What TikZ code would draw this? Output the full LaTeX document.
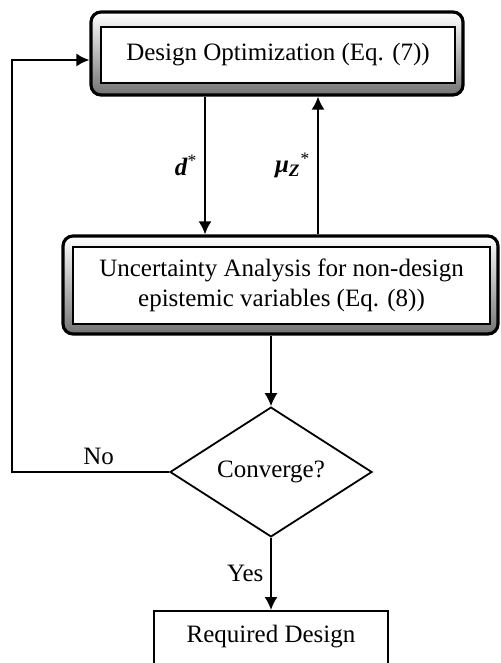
\documentclass[tikz,border=0pt]{standalone}
\usepackage{fontspec}
\setmainfont{Liberation Serif}
\usetikzlibrary{arrows.meta,shapes.geometric,positioning,calc}

\tikzset{
  >={Latex[length=6.5pt,width=6.5pt]},
  shadebox/.style={draw, line width=1.6pt, rounded corners=5pt, top color=white, bottom color=black!55},
  innerbox/.style={draw, line width=0.7pt, fill=white, align=center, inner sep=0pt},
  decision/.style={diamond, draw, line width=0.9pt, inner sep=0pt, minimum width=101pt, minimum height=52pt},
  plainbox/.style={draw, line width=0.9pt},
  link/.style={->, line width=0.9pt}
}

\begin{document}
\begin{tikzpicture}[x=0.5pt, y=-0.5pt, font=\fontsize{12.5}{15}\selectfont]
    \useasboundingbox (0,0) rectangle (500,663);

    % Design optimization block
    \node[shadebox, minimum width=186pt, minimum height=41.5pt] (opt) at (277,53.5) {};
    \node[innerbox, minimum width=177pt, minimum height=28pt] (optin) at (278,55) {Design Optimization (Eq. (7))};

    % Uncertainty analysis block
    \node[shadebox, minimum width=217.5pt, minimum height=49pt] (ua) at (280.5,285) {};
    \node[innerbox, minimum width=208.5pt, minimum height=38.5pt] (uain) at (281.5,285.5) {Uncertainty Analysis for non-design\\epistemic variables (Eq. (8))};

    % Decision and result
    \node[decision] (conv) at (271,472) {Converge?};
    \node[plainbox, anchor=north, minimum width=117pt, text height=9pt, text depth=30pt, inner ysep=7pt] (req) at (271,610) {Required Design};

    \coordinate (dx) at (205,0);
    \coordinate (mx) at (318,0);
    \coordinate (lx) at (12,60);

    % Connectors
    \draw[link] (opt.south -| dx) -- node[left] {\textbf{\textit{d}}\textsuperscript{*}} (ua.north -| dx);
    \draw[link] (ua.north -| mx) -- node[left] {\textbf{\textit{μ}}\textsubscript{\textbf{\textit{Z}}}\textsuperscript{*}} (opt.south -| mx);
    \draw[link] (ua.south -| conv) -- (conv.north);
    \draw[link] (conv.south) -- node[left] {Yes} (req.north);
    \draw[link] (conv.west) -- node[above, xshift=4pt] {No} (conv.west -| lx) -- (lx) -- (opt.west |- lx);
\end{tikzpicture}
\end{document}
